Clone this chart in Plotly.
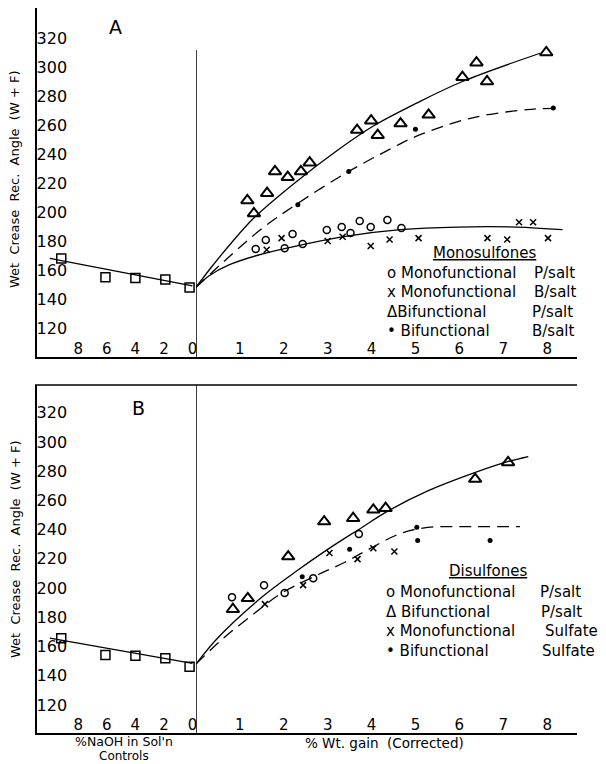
import plotly.graph_objects as go

# The page body has an 8px margin, so the figure is drawn 8px smaller and
# all reference pixel positions are shifted by 8px.
OFF = 8
W, H = 606 - OFF, 764 - OFF
FONT = "DejaVu Sans"

# ---------------- Data ----------------
y_ticks = [120, 140, 160, 180, 200, 220, 240, 260, 280, 300, 320]
naoh_ticks = [8, 6, 4, 2, 0]
gain_ticks = [1, 2, 3, 4, 5, 6, 7, 8]

# Controls (% NaOH in sol'n)
ctrl_naoh = [9.2, 6.1, 4.0, 1.9, 0.2]
ctrl_A = [168, 155, 154.5, 153.5, 148]
ctrl_B = [165.7, 154.2, 153.6, 152, 146.2]
ctrl_fit_x = [10.0, 0.0]
ctrl_fit_A = [168, 149]
ctrl_fit_B = [165.7, 148.5]

# Panel A - Monosulfones
A_monoP_x = [1.36, 1.59, 2.02, 2.2, 2.43, 2.98, 3.32, 3.52, 3.73, 3.98, 4.36, 4.68]
A_monoP_y = [174.5, 180.7, 175, 184.8, 178, 187.6, 189.7, 185.5, 193.8, 189.7, 194.5, 189]
A_monoB_x = [1.61, 1.95, 3.0, 3.34, 3.98, 4.41, 5.07, 6.64, 7.09, 7.36, 7.68, 8.02]
A_monoB_y = [174, 182, 180, 183, 176.6, 181, 182, 182, 181, 193, 193, 182]
A_biP_x = [1.17, 1.32, 1.62, 1.80, 2.09, 2.39, 2.59, 3.67, 3.99, 4.14, 4.66, 5.30, 6.07, 6.39, 6.63, 7.98]
A_biP_y = [208, 199, 213, 228, 224, 228, 234, 256.5, 263, 253, 261, 267, 293, 303, 290, 310]
A_biB_x = [2.32, 3.48, 5.0, 8.14]
A_biB_y = [205, 228, 257, 271.7]

A_fit_biP_x = [0, 0.3, 0.75, 1.3, 2.27, 3.24, 4.05, 5.0, 6.07, 7.84]
A_fit_biP_y = [148, 160, 176.7, 195.4, 220.6, 243, 259.5, 274.7, 290, 309.5]
A_fit_biB_x = [0, 0.75, 1.5, 2.32, 3.48, 4.43, 5.0, 6.3, 7.7, 8.3]
A_fit_biB_y = [148, 169, 188.5, 206, 228, 243.5, 252, 265, 271, 271.5]
A_fit_mono_x = [0, 0.3, 0.75, 1.5, 2.43, 3.48, 4.66, 5.95, 7.3, 8.35]
A_fit_mono_y = [148, 156, 163.5, 171, 177.5, 183.5, 187.8, 189.6, 189.6, 187.8]

# Panel B - Disulfones
B_monoP_x = [0.82, 1.55, 2.02, 2.67, 3.71]
B_monoP_y = [193.8, 202, 196.7, 206.8, 237]
B_biP_x = [0.84, 1.18, 2.1, 2.92, 3.58, 4.04, 4.32, 6.36, 7.11]
B_biP_y = [185.5, 193, 221.6, 245.5, 247.8, 253.6, 254.7, 274.6, 286]
B_monoS_x = [1.57, 2.44, 3.04, 3.68, 4.04, 4.52]
B_monoS_y = [189, 202, 224, 219.8, 227.3, 225]
B_biS_x = [2.42, 3.5, 5.03, 5.05, 6.7]
B_biS_y = [207.8, 226.6, 241.7, 232.5, 232.5]

B_fit_biP_x = [0, 0.5, 1.51, 2.26, 3.0, 3.78, 4.33, 5.28, 6.35, 7.1, 7.57]
B_fit_biP_y = [148, 166, 194, 211, 226.5, 241.5, 252, 266.5, 279, 286.5, 290]
B_fit_S_x = [0, 0.6, 1.3, 1.96, 2.77, 3.38, 3.84, 4.67, 5.28, 6.03, 7.38]
B_fit_S_y = [148, 165, 182, 196.7, 209, 217.5, 225, 237.5, 241.5, 242, 242]

legend_A_title = "Monosulfones"
legend_A_names = ["o Monofunctional", "x Monofunctional", "\u0394Bifunctional", "\u2022 Bifunctional"]
legend_A_kinds = ["P/salt", "B/salt", "P/salt", "B/salt"]
legend_B_title = "Disulfones"
legend_B_names = ["o Monofunctional", "\u0394 Bifunctional", "x Monofunctional", "\u2022 Bifunctional"]
legend_B_kinds = ["P/salt", "P/salt", "Sulfate", "Sulfate"]

# ---------------- Figure ----------------
fig = go.Figure()
BLACK = "black"


def px_x(p):
    return (p - OFF) / W


def px_y(p):
    return 1 - (p - OFF) / H


def markers(x, y, xa, ya, symbol, size, lw=1.5):
    fig.add_trace(go.Scatter(x=x, y=y, xaxis=xa, yaxis=ya, mode="markers",
                             marker=dict(symbol=symbol, size=size, color=BLACK,
                                         line=dict(color=BLACK, width=lw)),
                             showlegend=False, hoverinfo="skip"))


def curve(x, y, xa, ya, dash="solid", shape="spline"):
    fig.add_trace(go.Scatter(x=x, y=y, xaxis=xa, yaxis=ya, mode="lines",
                             line=dict(color=BLACK, width=1.3, dash=dash, shape=shape,
                                       smoothing=1.0),
                             showlegend=False, hoverinfo="skip"))


DASH = "12px,7px"

# Panel A
curve(ctrl_fit_x, ctrl_fit_A, "x", "y", shape="linear")
markers(ctrl_naoh, ctrl_A, "x", "y", "square-open", 9)
curve(A_fit_biP_x, A_fit_biP_y, "x2", "y")
curve(A_fit_biB_x, A_fit_biB_y, "x2", "y", dash=DASH)
curve(A_fit_mono_x, A_fit_mono_y, "x2", "y")
markers(A_monoP_x, A_monoP_y, "x2", "y", "circle-open", 7)
markers(A_monoB_x, A_monoB_y, "x2", "y", "x-thin-open", 6)
markers(A_biP_x, A_biP_y, "x2", "y", "triangle-up-open", 11, 2)
markers(A_biB_x, A_biB_y, "x2", "y", "circle", 5, 0)

# Panel B
curve(ctrl_fit_x, ctrl_fit_B, "x3", "y2", shape="linear")
markers(ctrl_naoh, ctrl_B, "x3", "y2", "square-open", 9)
curve(B_fit_biP_x, B_fit_biP_y, "x4", "y2")
curve(B_fit_S_x, B_fit_S_y, "x4", "y2", dash=DASH)
markers(B_monoP_x, B_monoP_y, "x4", "y2", "circle-open", 7)
markers(B_biP_x, B_biP_y, "x4", "y2", "triangle-up-open", 11, 2)
markers(B_monoS_x, B_monoS_y, "x4", "y2", "x-thin-open", 6)
markers(B_biS_x, B_biS_y, "x4", "y2", "circle", 5, 0)

tickfont_y = dict(family=FONT, size=16, color=BLACK)
tickfont_x = dict(family=FONT, size=15, color=BLACK)

left_dom = [px_x(37), px_x(196)]
right_dom = [px_x(196), px_x(577)]
A_dom = [px_y(357), px_y(8)]
B_dom = [px_y(733), px_y(385)]

common_x = dict(showgrid=False, zeroline=False, showline=True, linecolor=BLACK,
                linewidth=1.5, ticks="", ticklabelposition="inside",
                ticklabeloverflow="allow", tickfont=tickfont_x, fixedrange=True)
common_y = dict(showgrid=False, zeroline=False, showline=True, linecolor=BLACK,
                linewidth=1.5, ticks="", ticklabelposition="inside",
                ticklabeloverflow="allow", tickfont=tickfont_y, tickvals=y_ticks,
                fixedrange=True)

fig.update_layout(
    width=W, height=H, margin=dict(l=0, r=0, t=0, b=0),
    paper_bgcolor="white", plot_bgcolor="white",
    font=dict(family=FONT, color=BLACK),
    xaxis=dict(domain=left_dom, anchor="y", range=[10.9, -0.25], tickvals=naoh_ticks, **common_x),
    xaxis2=dict(domain=right_dom, anchor="y", range=[0, 8.68], tickvals=gain_ticks, **common_x),
    xaxis3=dict(domain=left_dom, anchor="y2", range=[10.9, -0.25], tickvals=naoh_ticks, **common_x),
    xaxis4=dict(domain=right_dom, anchor="y2", range=[0, 8.68], tickvals=gain_ticks, **common_x),
    yaxis=dict(domain=A_dom, anchor="x", range=[100, 340.7], **common_y),
    yaxis2=dict(domain=B_dom, anchor="x3", range=[100.8, 339], **common_y),
)

# frame lines: dividers and top border of B
fig.add_shape(type="line", xref="x2", yref="y domain", x0=0, x1=0, y0=0, y1=0.88,
              line=dict(color=BLACK, width=1.5))
fig.add_shape(type="line", xref="x4", yref="y2 domain", x0=0, x1=0, y0=0, y1=1,
              line=dict(color=BLACK, width=1.5))
fig.add_shape(type="line", xref="paper", yref="y2 domain", x0=px_x(35), x1=px_x(577),
              y0=1, y1=1, line=dict(color=BLACK, width=1.5))


def text(x, y, t, size, xanchor="center", angle=0):
    return dict(x=px_x(x), y=px_y(y), xref="paper", yref="paper", text=t,
                showarrow=False, xanchor=xanchor, yanchor="middle", textangle=angle,
                font=dict(size=size, family=FONT, color=BLACK))


ann = []
ytitle = "Wet  Crease  Rec.  Angle  (W + F)"
for cy in (180, 550):
    ann.append(text(15, cy, ytitle, 13, angle=-90))
ann.append(text(115, 27, "A", 19))
ann.append(text(138, 408, "B", 19))

# legends
LEG = 15
ann.append(text(484, 253, "<u>" + legend_A_title + "</u>", LEG))
A_kind_x = [532, 532, 530, 530]
for i, (nm, kd) in enumerate(zip(legend_A_names, legend_A_kinds)):
    yy = 273 + i * 19.3
    ann.append(text(385, yy, nm, LEG, xanchor="left"))
    ann.append(text(A_kind_x[i], yy, kd, LEG, xanchor="left"))
ann.append(text(488, 571, "<u>" + legend_B_title + "</u>", LEG))
B_kind_x = [538, 539, 543, 540]
for i, (nm, kd) in enumerate(zip(legend_B_names, legend_B_kinds)):
    yy = 592 + i * 19.7
    ann.append(text(384, yy, nm, LEG, xanchor="left"))
    ann.append(text(B_kind_x[i], yy, kd, LEG, xanchor="left"))

# axis titles
ann.append(text(124, 741, "%NaOH in Sol'n", 12.5))
ann.append(text(124, 756, "Controls", 12))
ann.append(text(384, 743, "% Wt. gain  (Corrected)", 13.5))

fig.update_layout(annotations=ann)

fig.write_html("out.html")
